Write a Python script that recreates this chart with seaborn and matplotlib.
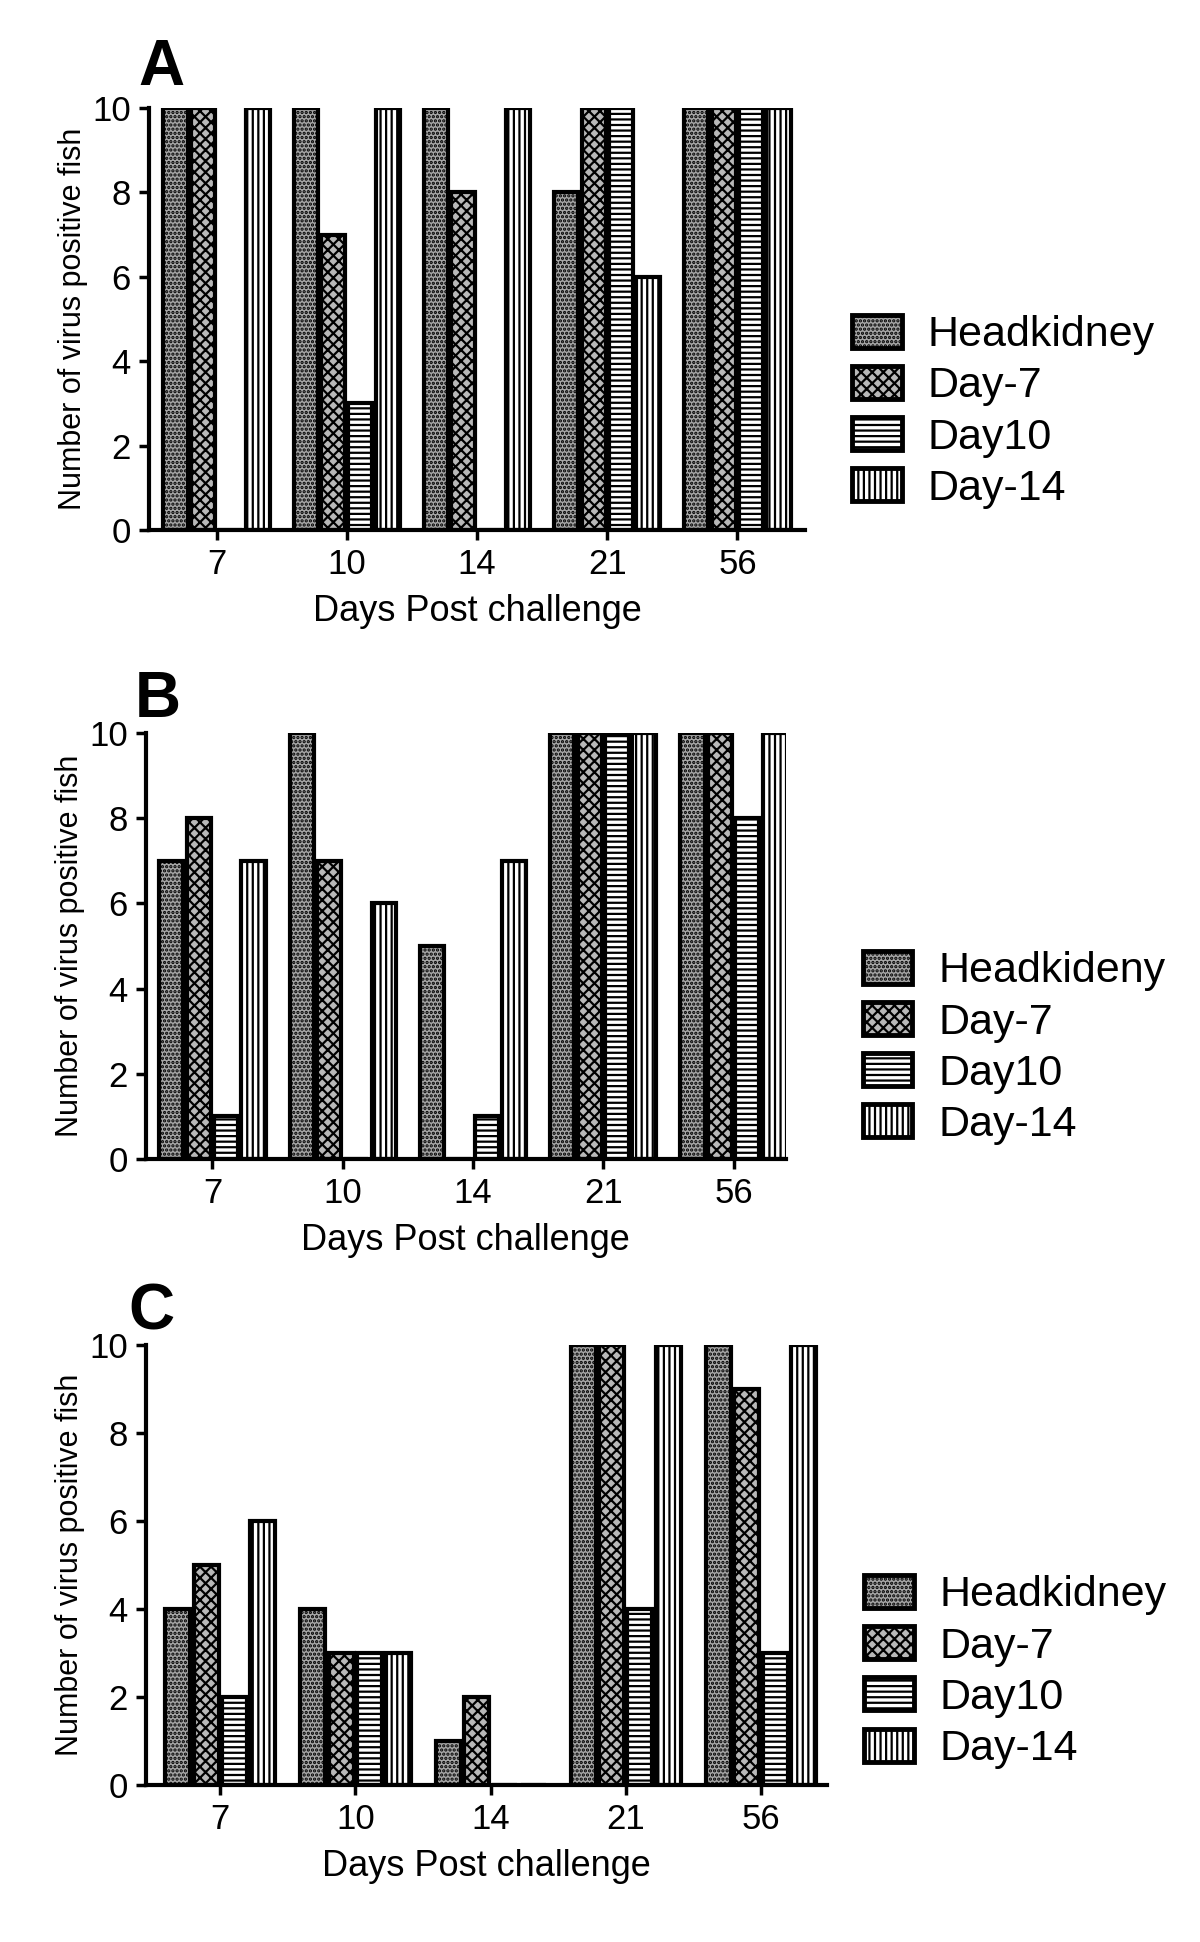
import pandas as pd
import matplotlib
matplotlib.use('Agg')
import matplotlib.pyplot as plt
from matplotlib.patches import Patch
import seaborn as sns

# Values
days = ['7', '10', '14', '21', '56']
tissues_a = ['Headkidney', 'Day-7', 'Day10', 'Day-14']
tissues_b = ['Headkideny', 'Day-7', 'Day10', 'Day-14']
tissues_c = ['Headkidney', 'Day-7', 'Day10', 'Day-14']

panel_a = [
    [10, 10, 0, 10],
    [10, 7, 3, 10],
    [10, 8, 0, 10],
    [8, 10, 10, 6],
    [10, 10, 10, 10],
]
panel_b = [
    [7, 8, 1, 7],
    [10, 7, 0, 6],
    [5, 0, 1, 7],
    [10, 10, 10, 10],
    [10, 10, 8, 10],
]
panel_c = [
    [4, 5, 2, 6],
    [4, 3, 3, 3],
    [1, 2, 0, 0],
    [10, 10, 4, 10],
    [10, 9, 3, 10],
]

sns.set_style('ticks')
plt.rcParams['font.family'] = ['Liberation Sans', 'DejaVu Sans']
plt.rcParams['hatch.linewidth'] = 1.6
plt.rcParams['hatch.color'] = 'black'
for key in ['text.color', 'axes.labelcolor', 'xtick.color', 'ytick.color', 'axes.edgecolor']:
    plt.rcParams[key] = 'black'

faces = ['#a6a6a6', '#b8b8b8', 'white', 'white']
hatches = ['....', 'xxx', '---', '|||']


def to_long(values, tissues):
    rows = []
    for d, vals in zip(days, values):
        for t, v in zip(tissues, vals):
            rows.append({'Day': d, 'Tissue': t, 'Count': v})
    return pd.DataFrame(rows)


fig = plt.figure(figsize=(12, 19.42), dpi=100)

panels = [
    ('A', panel_a, tissues_a, [0.124, 0.7271, 0.547, 0.2173], (-0.52, 4.52), (0.71, 0.788), (0.115, 0.965)),
    ('B', panel_b, tissues_b, [0.1217, 0.4032, 0.533, 0.2194], (-0.51, 4.40), (0.719, 0.4604), (0.112, 0.6396)),
    ('C', panel_c, tissues_c, [0.1217, 0.0808, 0.5675, 0.2266], (-0.55, 4.49), (0.72, 0.139), (0.107, 0.324)),
]

for letter, values, tissues, rect, xlim, leg_pos, let_pos in panels:
    ax = fig.add_axes(rect)
    df = to_long(values, tissues)
    sns.barplot(data=df, x='Day', y='Count', hue='Tissue', hue_order=tissues,
                order=days, ax=ax, width=0.84, gap=0.12, legend=False,
                edgecolor='black', linewidth=3)
    for i, cont in enumerate(ax.containers):
        for bar in cont:
            bar.set_facecolor(faces[i])
            bar.set_hatch(hatches[i])
            bar.set_edgecolor('black')
            bar.set_linewidth(3)
    ax.set_ylim(0, 10)
    ax.set_xlim(*xlim)
    ax.set_yticks([0, 2, 4, 6, 8, 10])
    ax.tick_params(axis='both', labelsize=25, width=2.5, length=7, direction='out', pad=6)
    ax.set_xlabel('Days Post challenge', fontsize=26, labelpad=9)
    ax.set_ylabel('Number of virus positive fish', fontsize=22, labelpad=3)
    for side in ['top', 'right']:
        ax.spines[side].set_visible(False)
    for side in ['left', 'bottom']:
        ax.spines[side].set_linewidth(3)

    handles = [Patch(facecolor=faces[i], hatch=hatches[i], edgecolor='black',
                     linewidth=3.5, label=tissues[i]) for i in range(4)]
    fig.legend(handles=handles, loc='center left', bbox_to_anchor=leg_pos,
               frameon=False, fontsize=31, handlelength=1.15, handleheight=0.8,
               handletextpad=0.6, labelspacing=0.25, borderpad=0, borderaxespad=0)

    fig.text(let_pos[0], let_pos[1], letter, fontsize=46, fontweight='bold',
             ha='left', va='center')

fig.savefig('out.png', dpi=100, facecolor='white')
